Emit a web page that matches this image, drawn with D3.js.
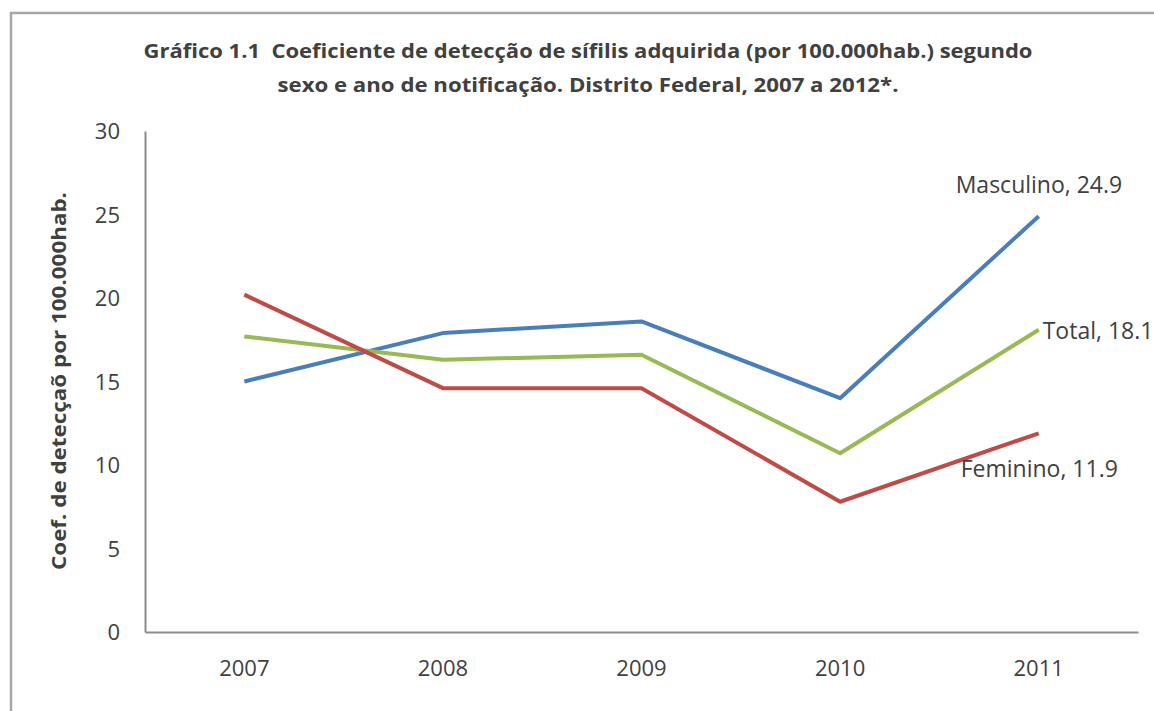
<!DOCTYPE html>
<html>
<head>
<meta charset="utf-8">
<script src="https://cdn.jsdelivr.net/npm/d3@7"></script>
<style>
    body { margin: 0; background: #fff; }
    text { font-family: "Open Sans", "Liberation Sans", sans-serif; fill: #404040; white-space: pre; }
</style>
</head>
<body>
<svg id="chart" width="1154" height="711"></svg>
<script>
var years = ['2007', '2008', '2009', '2010', '2011'];
var masculino = [15.0, 17.9, 18.6, 14.0, 24.9];
var feminino = [20.2, 14.6, 14.6, 7.8, 11.9];
var total = [17.7, 16.3, 16.6, 10.7, 18.1];
var yTicks = [0, 5, 10, 15, 20, 25, 30];

var titleLines = [
    'Gráfico 1.1  Coeficiente de detecção de sífilis adquirida (por 100.000hab.) segundo',
    'sexo e ano de notificação. Distrito Federal, 2007 a 2012*.'
];
var yTitle = 'Coef. de detecçaõ por 100.000hab.';

var series = [
    { name: 'Masculino', values: masculino, color: '#4a7ebb', dx: -83, dy: -32 },
    { name: 'Total', values: total, color: '#98b954', dx: 4, dy: 0 },
    { name: 'Feminino', values: feminino, color: '#be4b48', dx: -78, dy: 35 }
];

var svg = d3.select('#chart');
var plotLeft = 145, plotRight = 1138, plotTop = 131, plotBottom = 632;

// outer frame of the chart area (cut off on right/bottom in the original)
svg.append('rect')
    .attr('x', 11).attr('y', 13)
    .attr('width', 1170).attr('height', 730)
    .attr('fill', 'none')
    .attr('stroke', '#a6a6a6')
    .attr('stroke-width', 2.5);

var x = d3.scaleBand().domain(years).range([plotLeft, plotRight]);
var y = d3.scaleLinear().domain([0, 30]).range([plotBottom, plotTop]);

// title
var titleY = [58, 92];
var titleLen = [889, 621];
titleLines.forEach(function(t, i)
{
    svg.append('text')
        .attr('x', 588)
        .attr('y', titleY[i])
        .attr('text-anchor', 'middle')
        .attr('font-size', 20)
        .attr('font-weight', 'bold')
        .attr('textLength', titleLen[i])
        .attr('lengthAdjust', 'spacingAndGlyphs')
        .text(t);
});

// axes
var yAxis = svg.append('g')
    .attr('transform', 'translate(' + plotLeft + ',0)')
    .call(d3.axisLeft(y).tickValues(yTicks).tickSize(0).tickPadding(25));
var xAxis = svg.append('g')
    .attr('transform', 'translate(0,' + plotBottom + ')')
    .call(d3.axisBottom(x).tickSize(0).tickPadding(28));

[yAxis, xAxis].forEach(function(ax)
{
    ax.select('.domain').attr('stroke', '#8c8c8c').attr('stroke-width', 2);
    ax.selectAll('text')
        .attr('font-size', 22)
        .attr('font-family', '"Open Sans", sans-serif')
        .attr('fill', '#404040');
});
yAxis.selectAll('text').attr('dy', '0.35em');
xAxis.selectAll('text').attr('dy', '0.71em');

// y title
svg.append('text')
    .attr('transform', 'translate(58,381) rotate(-90)')
    .attr('text-anchor', 'middle')
    .attr('dominant-baseline', 'central')
    .attr('font-size', 20)
    .attr('font-weight', 'bold')
    .attr('textLength', 378)
    .attr('lengthAdjust', 'spacingAndGlyphs')
    .text(yTitle);

var line = d3.line()
    .x(function(d, i) { return x(years[i]) + x.bandwidth() / 2; })
    .y(function(d) { return y(d); });

series.forEach(function(s)
{
    svg.append('path')
        .datum(s.values)
        .attr('d', line)
        .attr('fill', 'none')
        .attr('stroke', s.color)
        .attr('stroke-width', 4)
        .attr('stroke-linejoin', 'round');

    var last = s.values.length - 1;
    svg.append('text')
        .attr('x', x(years[last]) + x.bandwidth() / 2 + s.dx)
        .attr('y', y(s.values[last]) + s.dy)
        .attr('dominant-baseline', 'central')
        .attr('font-size', 23)
        .text(s.name + ', ' + s.values[last].toFixed(1));
});
</script>
</body>
</html>
